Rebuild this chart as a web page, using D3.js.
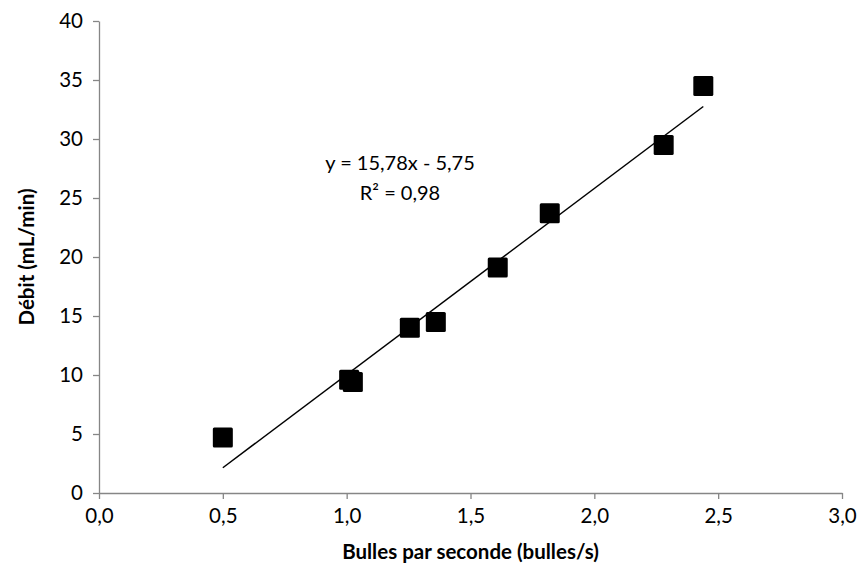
<!DOCTYPE html>
<html>
<head>
<meta charset="utf-8">
<script src="https://cdn.jsdelivr.net/npm/d3@7"></script>
<style>
  body { margin: 0; background: #fff; }
  text { font-family: Lato, "Open Sans", sans-serif; fill: #000; }
</style>
</head>
<body>
<div id="chart"></div>
<script>
// bubbles per second vs flow rate
const bulles = [0.50, 1.01, 1.025, 1.255, 1.36, 1.61, 1.82, 2.28, 2.44]
const debit  = [4.7, 9.6, 9.4, 14.0, 14.5, 19.1, 23.7, 29.5, 34.5]

// trend line from the chart label
const pente = 15.78
const ordonnee = -5.75
const equation = ["y = 15,78x - 5,75", "R\u00b2 = 0,98"]

const xTicks = [0, 0.5, 1, 1.5, 2, 2.5, 3]
const yTicks = [0, 5, 10, 15, 20, 25, 30, 35, 40]

const W = 860, H = 575
const margin = { top: 21, right: 18, bottom: 82, left: 99 }

const svg = d3.select('#chart').append('svg')
  .attr('width', W).attr('height', H)

const x = d3.scaleLinear().domain([0, 3]).range([margin.left, W - margin.right])
const y = d3.scaleLinear().domain([0, 40]).range([H - margin.bottom, margin.top])

const fmt = d => d3.format('.1f')(d).replace('.', ',')

const xAxis = svg.append('g')
  .attr('transform', `translate(0,${y(0)})`)
  .call(d3.axisBottom(x).tickValues(xTicks).tickFormat(fmt).tickSizeInner(6).tickSizeOuter(0).tickPadding(9))
const yAxis = svg.append('g')
  .attr('transform', `translate(${x(0)},0)`)
  .call(d3.axisLeft(y).tickValues(yTicks).tickSizeInner(6).tickSizeOuter(0).tickPadding(10))

;[xAxis, yAxis].forEach(g => {
  g.select('.domain').attr('stroke', '#868686').attr('stroke-width', 1.3)
  g.selectAll('.tick line').attr('stroke', '#868686').attr('stroke-width', 1.3)
  g.selectAll('.tick text').style('font-size', '20.5px').attr('fill', '#000')
})

// trend line
const xmin = d3.min(bulles), xmax = d3.max(bulles)
svg.append('line')
  .attr('x1', x(xmin)).attr('y1', y(pente * xmin + ordonnee))
  .attr('x2', x(xmax)).attr('y2', y(pente * xmax + ordonnee))
  .attr('stroke', '#000').attr('stroke-width', 1.5)

// points
const s = 20
svg.append('g').selectAll('rect')
  .data(bulles.map((b, i) => [b, debit[i]]))
  .enter().append('rect')
  .attr('x', d => x(d[0]) - s / 2)
  .attr('y', d => y(d[1]) - s / 2)
  .attr('width', s).attr('height', s)
  .attr('rx', 1.5)
  .attr('fill', '#000')

// equation label
svg.append('text')
  .attr('x', 400).attr('y', 170)
  .attr('text-anchor', 'middle')
  .style('font-size', '20px')
  .text(equation[0])
svg.append('text')
  .attr('x', 400).attr('y', 200)
  .attr('text-anchor', 'middle')
  .style('font-size', '20px')
  .text(equation[1])

// axis titles
svg.append('text')
  .attr('x', (x(0) + x(3)) / 2).attr('y', 559)
  .attr('text-anchor', 'middle')
  .style('font-size', '20.5px').style('font-weight', 'bold')
  .text('Bulles par seconde (bulles/s)')
svg.append('text')
  .attr('transform', `translate(34,${(y(0) + y(40)) / 2}) rotate(-90)`)
  .attr('text-anchor', 'middle')
  .style('font-size', '20.5px').style('font-weight', 'bold')
  .text('Débit (mL/min)')
</script>
</body>
</html>
